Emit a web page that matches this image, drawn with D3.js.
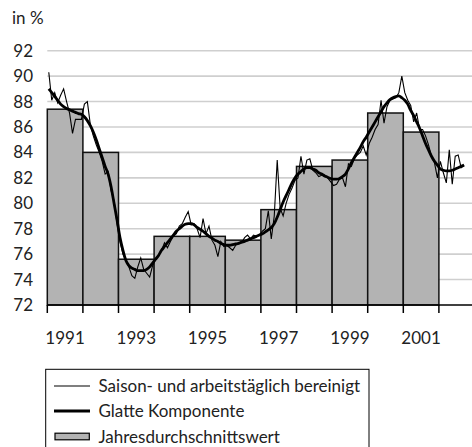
<!DOCTYPE html>
<html lang="de">
<head>
<meta charset="utf-8">
<title>Saison- und arbeitstäglich bereinigt</title>
<style>
  body { margin: 0; background: #fff; }
  svg text { font-family: Lato, "Open Sans", sans-serif; fill: #222; }
</style>
<script src="https://d3js.org/d3.v7.min.js"></script>
</head>
<body>
<script>
// annual averages (bars)
const years = [1991, 1992, 1993, 1994, 1995, 1996, 1997, 1998, 1999, 2000, 2001];
const annualAvg = [87.4, 84.0, 75.6, 77.4, 77.4, 77.1, 79.5, 82.9, 83.4, 87.1, 85.6];

// monthly series, starting January 1991
const startYear = 1991;
const saisonBereinigt = [
  90.3, 88.1, 88.7, 87.9, 88.5, 89.0, 88.0, 87.1, 85.5, 86.6, 86.6, 86.6,
  87.8, 88.0, 86.2, 85.3, 84.6, 84.0, 83.3, 82.3, 82.5, 81.0, 80.2, 78.4,
  77.0, 76.0, 75.5, 75.0, 74.3, 74.1, 75.0, 75.7, 74.8, 74.5, 74.2, 75.1,
  75.6, 75.9, 76.3, 76.9, 76.5, 77.0, 77.4, 77.6, 78.2, 78.4, 78.9, 79.35,
  78.3, 78.4, 78.0, 77.3, 78.8, 77.6, 78.2, 77.1, 76.7, 75.8, 77.0, 76.6,
  76.7, 76.5, 76.3, 76.7, 76.9, 76.9, 77.3, 77.5, 77.2, 77.5, 77.4, 77.5,
  77.8, 78.0, 79.4, 77.2, 79.0, 83.4, 79.6, 79.0, 80.0, 80.7, 81.2, 81.8,
  82.0, 83.7, 82.3, 83.4, 83.5, 82.6, 82.4, 82.1, 82.2, 82.2, 82.0, 81.7,
  81.4, 81.5, 81.9, 82.0, 81.3, 83.1, 82.9, 83.5, 83.8, 84.0, 84.5, 83.8,
  84.7, 85.2, 85.8, 86.2, 88.1, 86.3, 87.6, 88.1, 88.2, 88.3, 88.7, 90.0,
  88.7, 88.1, 87.7, 86.4, 87.1, 85.8, 85.8, 85.3, 84.6, 83.7, 83.2, 82.0,
  83.3, 82.4, 81.6, 84.2, 81.5, 83.7, 83.8, 82.8, 83.0
];
const glatteKomponente = [
  89.0, 88.7, 88.4, 88.1, 87.8, 87.6, 87.45, 87.35, 87.25, 87.15, 87.05, 87.0,
  86.8, 86.5, 86.1, 85.6, 85.0, 84.3, 83.6, 82.9, 82.3, 81.3, 80.0, 78.7,
  77.3, 76.3, 75.5, 75.1, 74.9, 74.8, 74.7, 74.7, 74.7, 74.8, 75.0, 75.3,
  75.6, 75.9, 76.3, 76.6, 76.9, 77.2, 77.5, 77.8, 78.0, 78.2, 78.35, 78.4,
  78.4, 78.3, 78.1, 77.95, 77.8, 77.6, 77.4, 77.25, 77.1, 77.0, 76.85, 76.75,
  76.7, 76.7, 76.75, 76.8, 76.85, 76.95, 77.0, 77.1, 77.2, 77.3, 77.4, 77.5,
  77.6, 77.75, 77.9, 78.1, 78.4, 78.9, 79.5, 80.1, 80.6, 81.1, 81.6, 82.0,
  82.3, 82.5, 82.7, 82.8, 82.8, 82.7, 82.6, 82.4, 82.3, 82.15, 82.05, 81.95,
  81.9, 81.9, 81.95, 82.1, 82.3, 82.7, 83.2, 83.6, 84.0, 84.4, 84.85, 85.2,
  85.6, 86.0, 86.4, 86.8, 87.2, 87.6, 87.9, 88.15, 88.3, 88.4, 88.45, 88.3,
  88.1, 87.8, 87.3, 86.9, 86.4, 85.9, 85.3, 84.7, 84.2, 83.7, 83.3, 83.0,
  82.7, 82.6, 82.55, 82.55, 82.6, 82.7, 82.8, 82.9, 83.0
];

const yTicks = [72, 74, 76, 78, 80, 82, 84, 86, 88, 90, 92];
const xTickYears = [1991, 1992, 1993, 1994, 1995, 1996, 1997, 1998, 1999, 2000, 2001, 2002];
const xLabelYears = [1991, 1993, 1995, 1997, 1999, 2001];
const legendItems = ["Saison- und arbeitstäglich bereinigt", "Glatte Komponente", "Jahresdurchschnittswert"];

const width = 472, height = 447;
const left = 47.3, right = 472, yearW = 35.6;

const svg = d3.select("body").append("svg")
    .attr("width", width)
    .attr("height", height);

const x = d3.scaleLinear()
    .domain([1991, 1991 + (right - left) / yearW])
    .range([left, right]);
const y = d3.scaleLinear()
    .domain([72, 92])
    .range([305, 50.7]);

// grid
svg.append("g").selectAll("line")
    .data(yTicks.filter(d => d > 72))
    .enter().append("line")
    .attr("x1", left).attr("x2", right)
    .attr("y1", d => y(d)).attr("y2", d => y(d))
    .attr("stroke", "#cfcfcf")
    .attr("stroke-width", 1.6);

// y labels
svg.append("g").selectAll("text")
    .data(yTicks)
    .enter().append("text")
    .attr("x", 33)
    .attr("y", d => y(d) + 6)
    .attr("text-anchor", "end")
    .style("font-size", "17px")
    .text(d => d);

svg.append("text")
    .attr("x", 12).attr("y", 24)
    .style("font-size", "17px")
    .text("in %");

// bars
svg.append("g").selectAll("rect")
    .data(years)
    .enter().append("rect")
    .attr("x", d => x(d))
    .attr("width", d => x(d + 1) - x(d))
    .attr("y", (d, i) => y(annualAvg[i]))
    .attr("height", (d, i) => y(72) - y(annualAvg[i]))
    .attr("fill", "#b3b3b3")
    .attr("stroke", "#111")
    .attr("stroke-width", 1.5);

const monthX = i => x(startYear + (i + 0.5) / 12);

svg.append("path")
    .datum(saisonBereinigt)
    .attr("fill", "none")
    .attr("stroke", "#000")
    .attr("stroke-width", 1.1)
    .attr("d", d3.line().x((d, i) => monthX(i)).y(d => y(d)));

svg.append("path")
    .datum(glatteKomponente)
    .attr("fill", "none")
    .attr("stroke", "#000")
    .attr("stroke-width", 2.8)
    .attr("stroke-linejoin", "round")
    .attr("d", d3.line().curve(d3.curveMonotoneX).x((d, i) => monthX(i)).y(d => y(d)));

// x axis
svg.append("line")
    .attr("x1", left).attr("x2", right)
    .attr("y1", y(72)).attr("y2", y(72))
    .attr("stroke", "#000").attr("stroke-width", 1.5);

svg.append("g").selectAll("line")
    .data(xTickYears)
    .enter().append("line")
    .attr("x1", d => x(d)).attr("x2", d => x(d))
    .attr("y1", y(72)).attr("y2", y(72) + 8)
    .attr("stroke", "#000").attr("stroke-width", 1.5);

svg.append("g").selectAll("text")
    .data(xLabelYears)
    .enter().append("text")
    .attr("x", d => x(d + 0.5))
    .attr("y", 344)
    .attr("text-anchor", "middle")
    .style("font-size", "17px")
    .text(d => d);

// legend
const lg = svg.append("g");
lg.append("rect")
    .attr("x", 45.7).attr("y", 369.3)
    .attr("width", 323.3).attr("height", 90)
    .attr("fill", "#fff").attr("stroke", "#000").attr("stroke-width", 1);

const rowY = [386, 411, 436.5];
lg.append("line")
    .attr("x1", 54).attr("x2", 90).attr("y1", rowY[0]).attr("y2", rowY[0])
    .attr("stroke", "#000").attr("stroke-width", 1.1);
lg.append("line")
    .attr("x1", 54).attr("x2", 90).attr("y1", rowY[1]).attr("y2", rowY[1])
    .attr("stroke", "#000").attr("stroke-width", 2.8);
lg.append("rect")
    .attr("x", 55).attr("y", rowY[2] - 3.3).attr("width", 34.3).attr("height", 6.6)
    .attr("fill", "#b3b3b3").attr("stroke", "#000").attr("stroke-width", 1.2);

lg.selectAll("text.item")
    .data(legendItems)
    .enter().append("text")
    .attr("class", "item")
    .attr("x", 98.5)
    .attr("y", (d, i) => rowY[i] + 6)
    .style("font-size", "17px")
    .text(d => d);
</script>
</body>
</html>
